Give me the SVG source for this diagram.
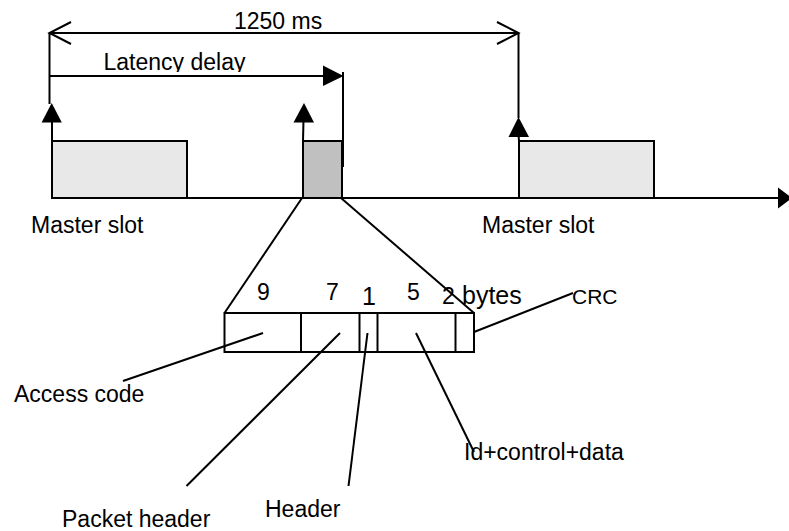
<svg xmlns="http://www.w3.org/2000/svg" width="789" height="531" viewBox="0 0 789 531">
  <style>
    .ln { stroke: #000; stroke-width: 2; fill: none; }
    .box { stroke: #000; stroke-width: 2; }
    .t { font-family: "Liberation Sans", Arial, sans-serif; font-size: 23px; fill: #000; }
    .ah { fill: #000; }
  </style>
  <defs>
    <clipPath id="clipLat"><rect x="90" y="40" width="260" height="32"/></clipPath>
  </defs>
  <rect width="789" height="531" fill="#fff"/>

  <g id="slot-master-1">
    <rect class="box" x="52" y="141" width="135" height="57" fill="#e8e8e8"/>
    <text class="t" x="31" y="233">Master slot</text>
  </g>
  <g id="slot-slave">
    <rect class="box" x="303" y="141" width="39" height="57" fill="#c0c0c0"/>
  </g>
  <g id="slot-master-2">
    <rect class="box" x="519" y="141" width="135" height="57" fill="#e8e8e8"/>
    <text class="t" x="482" y="233">Master slot</text>
  </g>

  <g id="packet">
    <rect class="box" x="224.5" y="313" width="249.5" height="39" fill="#fff"/>
    <line class="ln" x1="301" y1="313" x2="301" y2="352"/>
    <line class="ln" x1="359.5" y1="313" x2="359.5" y2="352"/>
    <line class="ln" x1="377.5" y1="313" x2="377.5" y2="352"/>
    <line class="ln" x1="455.5" y1="313" x2="455.5" y2="352"/>
    <text class="t" x="257" y="300">9</text>
    <text class="t" x="326" y="300">7</text>
    <text class="t" x="362" y="305" style="font-size:25px">1</text>
    <text class="t" x="407" y="300">5</text>
    <text class="t" x="442" y="304">2</text>
    <text class="t" x="462" y="304" style="font-size:25px">bytes</text>
  </g>

  <g id="labels">
    <text class="t" x="14" y="402">Access code</text>
    <text class="t" x="62" y="527">Packet header</text>
    <text class="t" x="265" y="517">Header</text>
    <text class="t" x="464" y="460">Id+control+data</text>
    <text class="t" x="572" y="304" style="font-size:21px">CRC</text>
    <text class="t" x="234" y="29">1250 ms</text>
    <text class="t" x="103.5" y="70" clip-path="url(#clipLat)">Latency delay</text>
  </g>

  <g id="connectors">
    <!-- time axis -->
    <line class="ln" x1="52" y1="198" x2="779" y2="198"/>
    <polygon class="ah" points="778,187.5 792,198 778,208.5"/>
    <!-- 1250 ms dimension -->
    <line class="ln" x1="49.5" y1="33" x2="518.5" y2="33"/>
    <polyline class="ln" points="71,22 49.5,33 71,44"/>
    <polyline class="ln" points="497,22 518.5,33 497,44"/>
    <line class="ln" x1="49.5" y1="33" x2="49.5" y2="104"/>
    <line class="ln" x1="518.5" y1="33" x2="518.5" y2="118"/>
    <!-- latency delay -->
    <line class="ln" x1="50" y1="76" x2="325" y2="76"/>
    <polygon class="ah" points="323,65.5 343.5,76 323,86"/>
    <line class="ln" x1="343" y1="72" x2="343" y2="167"/>
    <!-- up arrows -->
    <line class="ln" x1="52" y1="120" x2="52" y2="141"/>
    <polygon class="ah" points="51.7,103 61.8,122.5 41.6,122.5"/>
    <line class="ln" x1="303.5" y1="120" x2="303" y2="141"/>
    <polygon class="ah" points="304,103 314,122.5 293.5,122.5"/>
    <line class="ln" x1="518.5" y1="135" x2="519" y2="141"/>
    <polygon class="ah" points="518.5,117 529,137 508.5,137"/>
    <!-- fan to packet -->
    <line class="ln" x1="302" y1="198" x2="224.5" y2="313"/>
    <line class="ln" x1="341" y1="198" x2="474" y2="313"/>
    <!-- leaders -->
    <line class="ln" x1="263" y1="333" x2="123" y2="381"/>
    <line class="ln" x1="340" y1="333" x2="186.5" y2="486"/>
    <line class="ln" x1="367.5" y1="333" x2="348.5" y2="486"/>
    <line class="ln" x1="416" y1="333" x2="474" y2="452"/>
    <line class="ln" x1="474" y1="332" x2="573" y2="293"/>
  </g>
</svg>
